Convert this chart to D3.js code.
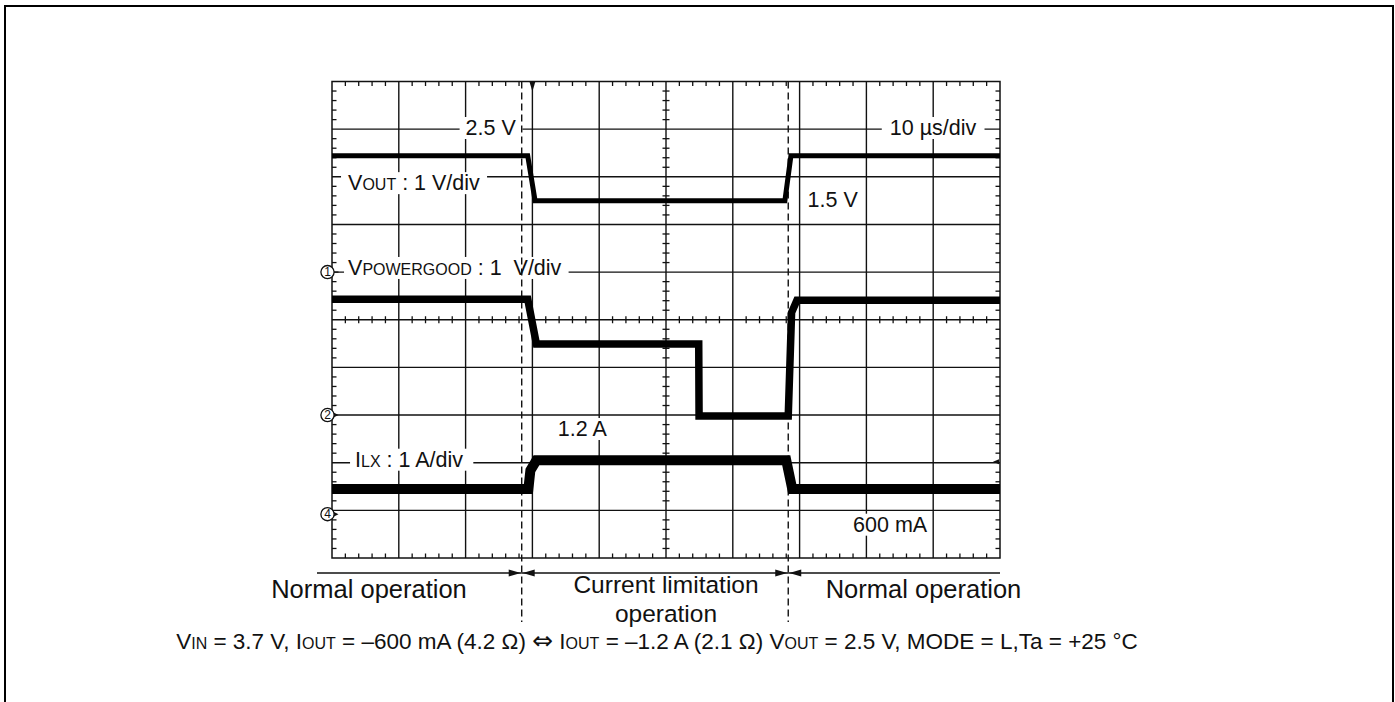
<!DOCTYPE html>
<html><head><meta charset="utf-8">
<script src="https://cdn.jsdelivr.net/npm/d3@7"></script>
<style>html,body{margin:0;padding:0;background:#fff}svg{display:block}</style>
</head><body>
<svg id="c" width="1395" height="702"></svg>
<script>
// ---------- DATA ----------
// time axis: 10 µs/div, 10 divisions
const timeDomainUs = [0, 100];
const divisionsX = 10, divisionsY = 10;
// VOUT (channel 1, 1 V/div, ground marker ① at 6.0 div)
const voutTimeUs = [0, 29.3, 30.4, 67.8, 68.7, 100];
const voutVolts  = [2.44, 2.44, 1.50, 1.50, 2.44, 2.44];
// VPOWERGOOD (channel 2, 1 V/div, ground marker ② at 3.0 div)
const pgTimeUs = [0, 29.3, 30.6, 54.9, 54.95, 68.3, 68.8, 69.6, 100];
const pgVolts  = [2.43, 2.43, 1.49, 1.49, -0.02, -0.02, 2.15, 2.41, 2.41];
// ILX (channel 4, 1 A/div, ground marker ④ at 0.92 div)
const ilxTimeUs = [0, 29.4, 29.7, 30.6, 68.0, 68.9, 100];
const ilxAmps   = [0.53, 0.53, 0.92, 1.13, 1.13, 0.53, 0.53];
const groundDiv = {vout: 6.0, pg: 3.0, ilx: 0.92};
const perDiv = {vout: 1, pg: 1, ilx: 1};
// phase boundaries (µs)
const boundaryUs = [28.4, 68.3];
const phaseLabels = ["Normal operation", "Current limitation|operation", "Normal operation"];
const traceLabels = [
  {parts:[["2.5 V",0]], t:20.0, v:8.877, pad:[6,6]},
  {parts:[["10 µs/div",0]], t:83.5, v:8.877, pad:[8,8]},
  {parts:[["V",0],["OUT",1],[" : 1 V/div",0]], t:2.4, v:7.72, pad:[7,7]},
  {parts:[["1.5 V",0]], t:71.2, v:7.37, pad:null},
  {parts:[["V",0],["POWERGOOD",1],[" : 1\u00a0 V/div",0]], t:2.4, v:5.94, pad:[4,7]},
  {parts:[["1.2 A",0]], t:33.8, v:2.56, pad:[5,6]},
  {parts:[["I",0],["LX",1],[" : 1 A/div",0]], t:3.45, v:1.916, pad:[5,10]},
  {parts:[["600 mA",0]], t:78.0, v:0.552, pad:[5,4]}
];
const captionParts = [["V",0],["IN",1],[" = 3.7 V, I",0],["OUT",1],[" = –600 mA (4.2 Ω) ",0],["⇔",2],[" I",0],["OUT",1],
  [" = –1.2 A (2.1 Ω) V",0],["OUT",1],[" = 2.5 V, MODE = L,Ta = +25 °C",0]];

// ---------- LAYOUT ----------
const svg = d3.select("#c");
const FONT = "'Liberation Sans', Arial, Helvetica, sans-serif";
const X0 = 332, X1 = 1000, Y0 = 81.5, Y1 = 558;
const x = d3.scaleLinear().domain(timeDomainUs).range([X0, X1]);
const y = d3.scaleLinear().domain([0, divisionsY]).range([Y1, Y0]);
const ink = "#111";

// outer frame
svg.append("rect").attr("x",5).attr("y",6).attr("width",1388).attr("height",710)
  .attr("fill","none").attr("stroke","#000").attr("stroke-width",2);

const g = svg.append("g");
// grid lines
const gridX = d3.range(1, divisionsX).map(i => timeDomainUs[0] + i*(timeDomainUs[1]-timeDomainUs[0])/divisionsX);
const gridY = d3.range(1, divisionsY);
g.selectAll(".gx").data(gridX).join("line")
  .attr("x1",d=>x(d)).attr("x2",d=>x(d)).attr("y1",Y0).attr("y2",Y1)
  .attr("stroke",ink).attr("stroke-width",1.4);
g.selectAll(".gy").data(gridY).join("line")
  .attr("x1",X0).attr("x2",X1).attr("y1",d=>y(d)).attr("y2",d=>y(d))
  .attr("stroke",ink).attr("stroke-width",1.4);
// minor ticks (5 per division)
const minorX = d3.range(0, divisionsX*5+1).filter(i=>i%5!==0).map(i=>timeDomainUs[0]+i*(timeDomainUs[1]-timeDomainUs[0])/(divisionsX*5));
const minorY = d3.range(0, divisionsY*5+1).filter(i=>i%5!==0).map(i=>i/5);
const tk = g.append("g").attr("stroke",ink).attr("stroke-width",1.3);
minorX.forEach(t=>{
  tk.append("line").attr("x1",x(t)).attr("x2",x(t)).attr("y1",Y0).attr("y2",Y0+4.5);
  tk.append("line").attr("x1",x(t)).attr("x2",x(t)).attr("y1",Y1).attr("y2",Y1-4.5);
  tk.append("line").attr("x1",x(t)).attr("x2",x(t)).attr("y1",y(5)-3.5).attr("y2",y(5)+3.5);
});
minorY.forEach(v=>{
  tk.append("line").attr("x1",X0).attr("x2",X0+4.5).attr("y1",y(v)).attr("y2",y(v));
  tk.append("line").attr("x1",X1).attr("x2",X1-4.5).attr("y1",y(v)).attr("y2",y(v));
  tk.append("line").attr("x1",x(50)-3.5).attr("x2",x(50)+3.5).attr("y1",y(v)).attr("y2",y(v));
});
// border
g.append("rect").attr("x",X0).attr("y",Y0).attr("width",X1-X0).attr("height",Y1-Y0)
  .attr("fill","none").attr("stroke",ink).attr("stroke-width",1.5);

// labels with white boxes
function richText(parent, parts, xx, yy, big, small, anchor, sym){
  const t = parent.append("text").attr("x",xx).attr("y",yy).attr("font-family",FONT)
    .attr("font-size",big).attr("fill","#111").attr("text-anchor",anchor||"start");
  parts.forEach(p=>{
    const s = t.append("tspan").attr("font-size", p[1]===1?small:(p[1]===2?(sym||big):big)).text(p[0]);
    if (p[1]===2) s.attr("font-family","'DejaVu Sans', sans-serif");
  });
  return t;
}
const labG = svg.append("g");
traceLabels.forEach(L=>{
  const t = richText(labG, L.parts, x(L.t), y(L.v), 21.5, 16);
  if (L.pad){
    const b = t.node().getBBox();
    labG.insert("rect", "text").attr("x", b.x - L.pad[0]).attr("y", b.y + 1)
      .attr("width", b.width + L.pad[0] + L.pad[1]).attr("height", b.height - 2).attr("fill","#fff");
  }
});

// channel ground markers
function marker(num, div, kind){
  const cy = y(div), cx = 327.5;
  const m = svg.append("g");
  if (kind === "dash") m.append("line").attr("x1",cx+6).attr("x2",cx+11).attr("y1",cy).attr("y2",cy).attr("stroke",ink).attr("stroke-width",1.3);
  else m.append("path").attr("d",`M${cx+6},${cy-2.5}L${cx+11},${cy}L${cx+6},${cy+2.5}Z`).attr("fill",ink);
  m.append("circle").attr("cx",cx).attr("cy",cy).attr("r",6.6).attr("fill","#fff").attr("stroke",ink).attr("stroke-width",1.3);
  m.append("text").attr("x",cx).attr("y",cy+4.2).attr("text-anchor","middle").attr("font-family",FONT)
    .attr("font-size",12).attr("fill",ink).text(num);
}
marker("1", groundDiv.vout, "dash");
marker("2", groundDiv.pg, "tri");
marker("4", groundDiv.ilx, "tri");
// trigger marker at top and trigger-level marker at right
svg.append("path").attr("d",`M${x(30)-3},${Y0}L${x(30)+3},${Y0}L${x(30)},${Y0+10}Z`).attr("fill",ink);
svg.append("path").attr("d",`M${X1-1},${y(2.02)-2.5}L${X1-7},${y(2.02)}L${X1-1},${y(2.02)+2.5}Z`).attr("fill",ink);

// boundary dashed lines
svg.selectAll(".bd").data(boundaryUs).join("line")
  .attr("x1",d=>x(d)).attr("x2",d=>x(d)).attr("y1",Y0).attr("y2",622)
  .attr("stroke",ink).attr("stroke-width",1.4).attr("stroke-dasharray","7,4");

// traces
function trace(ts, vs, ch, w){
  const pts = ts.map((t,i)=>[x(t), y(groundDiv[ch] + vs[i]/perDiv[ch])]);
  svg.append("path").attr("d", d3.line()(pts)).attr("fill","none").attr("stroke","#000")
    .attr("stroke-width", w).attr("stroke-linejoin","miter");
}
trace(voutTimeUs, voutVolts, "vout", 5);
trace(pgTimeUs, pgVolts, "pg", 7.5);
trace(ilxTimeUs, ilxAmps, "ilx", 10);

// phase arrows
const arrowY = 573;
const segs = [[317, x(boundaryUs[0]), false, true], [x(boundaryUs[0]), x(boundaryUs[1]), true, true], [x(boundaryUs[1]), 1000, true, false]];
segs.forEach(s=>{
  svg.append("line").attr("x1",s[0]).attr("x2",s[1]).attr("y1",arrowY).attr("y2",arrowY).attr("stroke",ink).attr("stroke-width",1.3);
  if (s[2]) svg.append("path").attr("d",`M${s[0]+1},${arrowY}L${s[0]+13},${arrowY-3.5}L${s[0]+13},${arrowY+3.5}Z`).attr("fill",ink);
  if (s[3]) svg.append("path").attr("d",`M${s[1]-1},${arrowY}L${s[1]-13},${arrowY-3.5}L${s[1]-13},${arrowY+3.5}Z`).attr("fill",ink);
});
const phaseCenters = [369, 666, 923.5];
phaseLabels.forEach((lab,i)=>{
  const lines = lab.split("|");
  lines.forEach((line,j)=>{
    const two = lines.length > 1;
    svg.append("text").attr("x",phaseCenters[i]).attr("y",(two ? 593 : 598) + j*29).attr("text-anchor","middle")
      .attr("font-family",FONT).attr("font-size",two ? 24.5 : 25.5).attr("fill","#111").text(line);
  });
});
// caption
richText(svg, captionParts, 657, 649, 22.5, 16, "middle", 25);
</script>
</body></html>
